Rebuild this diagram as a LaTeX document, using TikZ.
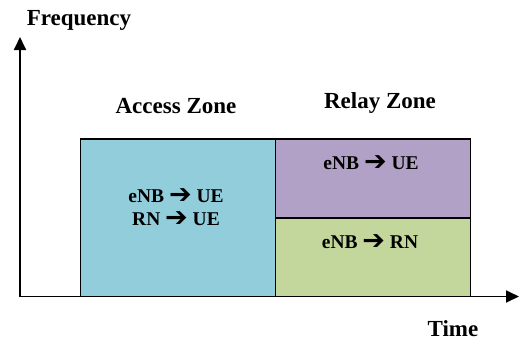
\documentclass[tikz,border=0pt]{standalone}
\usepackage{fontspec}
\setmainfont{Liberation Serif}
\newfontfamily\arrowfont{DejaVu Sans}
\newcommand{\rarr}{\smash{\raisebox{-1pt}{\arrowfont\bfseries\fontsize{27}{23}\selectfont ➔}}}
\usetikzlibrary{arrows.meta}
\definecolor{accessc}{HTML}{92CDDC}
\definecolor{relayup}{HTML}{B2A1C7}
\definecolor{relaydown}{HTML}{C3D69B}
\begin{document}
\begin{tikzpicture}[x=1pt,y=-1pt,
  zone/.style={draw=black,line width=1.8pt,inner sep=0pt,outer sep=0pt},
  lab/.style={font=\fontsize{23}{25}\selectfont\bfseries,inner sep=0pt},
  txt/.style={font=\fontsize{19.5}{23}\selectfont\bfseries,inner sep=0pt,align=center},
  axis/.style={line width=1.8pt,-{Triangle[length=13pt,width=12pt]}}]
\useasboundingbox (0,0) rectangle (519,341);
\coordinate (o) at (20,296.5);
\coordinate (ytip) at (20,37);
\coordinate (xtip) at (519,296.5);
\node[zone,fill=accessc,minimum width=195pt,minimum height=157.5pt,anchor=north west] (acc) at (80.5,139) {};
\node[zone,fill=relayup,minimum width=195pt,minimum height=79pt,anchor=north west] (rup) at (275.5,139) {};
\node[zone,fill=relaydown,minimum width=195pt,minimum height=78.5pt,anchor=north west] (rdn) at (275.5,218) {};
\node[txt] (acct1) at (176,196) {eNB \rarr{} UE};
\node[txt] (acct2) at (176,219) {RN \rarr{} UE};
\node[txt] (rupt) at (371,163) {eNB \rarr{} UE};
\node[txt] (rdnt) at (370,242) {eNB \rarr{} RN};
\node[lab] (freq) at (79,20) {Frequency};
\node[lab] (accl) at (176,106) {Access Zone};
\node[lab] (rell) at (380,103) {Relay Zone};
\node[lab] (time) at (453,329) {Time};
\draw[axis] (o) -- (ytip);
\draw[axis] (o) -- (xtip);
\end{tikzpicture}
\end{document}
